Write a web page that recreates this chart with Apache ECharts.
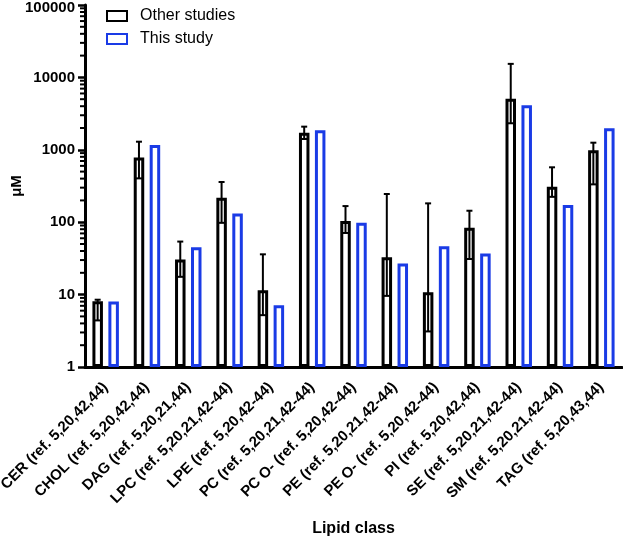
<!DOCTYPE html>
<html>
<head>
<meta charset="utf-8">
<script src="https://cdn.jsdelivr.net/npm/echarts@6/dist/echarts.min.js"></script>
<style>
html,body{margin:0;padding:0;background:#fff;}
#c{width:623px;height:537px;}
</style>
</head>
<body>
<div id="c"></div>
<script>
const categories = ['CER (ref. 5,20,42,44)', 'CHOL (ref. 5,20,42,44)', 'DAG (ref. 5,20,21,44)', 'LPC (ref. 5,20,21,42-44)', 'LPE (ref. 5,20,42-44)', 'PC (ref. 5,20,21,42-44)', 'PC O- (ref. 5,20,42-44)', 'PE (ref. 5,20,21,42-44)', 'PE O- (ref. 5,20,42-44)', 'PI (ref. 5,20,42,44)', 'SE (ref. 5,20,21,42-44)', 'SM (ref. 5,20,21,42-44)', 'TAG (ref. 5,20,43,44)'];
const otherStudies = [8.1, 783, 30.6, 217, 11.5, 1723, 103.5, 32.9, 10.8, 83.7, 5090, 309, 984];
const otherErrLow = [4.4, 403, 17.6, 98, 5.2, 1410, 71, 9.6, 3.1, 31, 2325, 224, 333];
const otherErrHigh = [8.5, 1294, 54, 359, 36, 2088, 167, 245, 182, 144, 15380, 573, 1254];
const thisStudy = [8.0, 1165, 45.2, 132, 7.1, 1861, 98, 26.9, 46.7, 37, 4125, 173, 1983];
const yTicks = [1, 10, 100, 1000, 10000, 100000];

const BLUE = '#1a3be6';
const FONT = 'Liberation Sans, Arial';
const errData = categories.map((c, i) => [i, otherErrLow[i], otherErrHigh[i]]);
const minorTicks = [];
for (let d = 0; d < yTicks.length - 1; d++) {
  for (let m = 2; m <= 9; m++) minorTicks.push([0, m * yTicks[d]]);
}

const chart = echarts.init(document.getElementById('c'));
chart.setOption({
  animation: false,
  legend: {
    orient: 'vertical', left: 101, top: 3, itemGap: 7,
    itemWidth: 20, itemHeight: 10, icon: 'rect',
    textStyle: { fontFamily: FONT, fontSize: 16, color: '#000', padding: [0, 0, 0, 8] },
    data: ['Other studies', 'This study']
  },
  grid: { left: 85, width: 537, top: 5, height: 362, containLabel: false, outerBoundsMode: 'none' },
  xAxis: {
    type: 'category', data: categories,
    name: 'Lipid class', nameLocation: 'middle', nameGap: 154, nameMoveOverlap: false,
    nameTextStyle: { fontFamily: FONT, fontWeight: 'bold', fontSize: 16, color: '#000' },
    axisLine: { lineStyle: { color: '#000', width: 3 } },
    axisTick: { alignWithLabel: true, length: 8, lineStyle: { color: '#000', width: 3 } },
    axisLabel: { rotate: 45, margin: 18, interval: 0, fontFamily: FONT, fontWeight: 'bold', fontSize: 15, color: '#000' }
  },
  yAxis: {
    type: 'log', min: 1, max: 100000, logBase: 10,
    name: 'μM', nameLocation: 'middle', nameGap: 61, nameRotate: 90, nameMoveOverlap: false,
    nameTextStyle: { fontFamily: FONT, fontWeight: 'bold', fontSize: 15, color: '#000' },
    axisLine: { show: true, lineStyle: { color: '#000', width: 3 } },
    axisTick: { show: true, length: 7, lineStyle: { color: '#000', width: 2.5 } },
    splitLine: { show: false },
    axisLabel: {
      margin: 10, fontFamily: FONT, fontWeight: 'bold', fontSize: 15, color: '#000',
      formatter: v => (v >= 100000 ? '{t|' + Math.round(v) + '}' : String(Math.round(v))),
      rich: { t: { fontFamily: FONT, fontWeight: 'bold', fontSize: 15, color: '#000', padding: [5, 0, 0, 0] } }
    }
  },
  series: [
    {
      name: 'Other studies', type: 'bar', data: otherStudies,
      barWidth: 10.5, barGap: '52%',
      itemStyle: { color: '#fff', borderColor: '#000', borderWidth: 3 }
    },
    {
      name: 'This study', type: 'bar', data: thisStudy,
      barWidth: 10.5, barGap: '52%',
      itemStyle: { color: '#fff', borderColor: BLUE, borderWidth: 3 }
    },
    {
      name: 'err', type: 'custom', data: errData, z: 5,
      encode: { x: 0, y: [1, 2] },
      renderItem: function (params, api) {
        const i = api.value(0);
        const lo = api.coord([i, api.value(1)]);
        const hi = api.coord([i, api.value(2)]);
        const x = lo[0] - 8;
        const st = { stroke: '#000', lineWidth: 2 };
        return {
          type: 'group', children: [
            { type: 'line', shape: { x1: x, y1: lo[1], x2: x, y2: hi[1] }, style: st },
            { type: 'line', shape: { x1: x - 3, y1: lo[1], x2: x + 3, y2: lo[1] }, style: st },
            { type: 'line', shape: { x1: x - 3, y1: hi[1], x2: x + 3, y2: hi[1] }, style: st }
          ]
        };
      }
    },
    {
      name: 'minor', type: 'custom', data: minorTicks, clip: false, silent: true,
      encode: { x: 0, y: 1 },
      renderItem: function (params, api) {
        const p = api.coord([0, api.value(1)]);
        const x0 = params.coordSys.x;
        return { type: 'line', shape: { x1: x0 - 5, y1: p[1], x2: x0, y2: p[1] }, style: { stroke: '#000', lineWidth: 2 } };
      }
    }
  ]
});
</script>
</body>
</html>
